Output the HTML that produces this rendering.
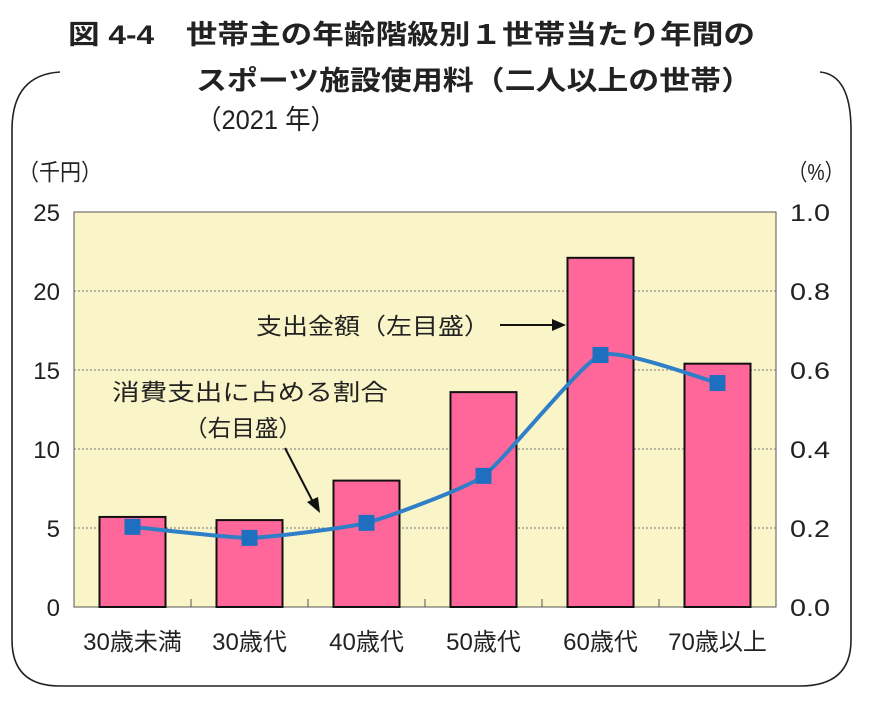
<!DOCTYPE html>
<html><head><meta charset="utf-8"><style>
body{margin:0;background:#fff;}
svg{display:block;font-family:"Liberation Sans","Noto Sans CJK JP",sans-serif;}
</style></head><body>
<svg id="chart" width="870" height="711" viewBox="0 0 870 711">
<path d="M60,72 Q12,75 12,130 L12,640 Q12,686 60,686 L800,686 Q851,686 851,640 L851,130 Q851,75 820,72" fill="none" stroke="#222" stroke-width="1.6"/>
<g font-size="27" fill="#222" font-weight="bold">
<text x="68" y="44" textLength="687" lengthAdjust="spacingAndGlyphs">図 4-4　世帯主の年齢階級別１世帯当たり年間の</text>
<text x="196" y="90" textLength="556" lengthAdjust="spacingAndGlyphs">スポーツ施設使用料（二人以上の世帯）</text>
<text x="196" y="129" textLength="140" lengthAdjust="spacingAndGlyphs" font-weight="normal">（2021 年）</text>
</g>
<text x="18" y="180" font-size="23" textLength="84" lengthAdjust="spacingAndGlyphs" fill="#222">（千円）</text>
<text x="788" y="180" font-size="23" textLength="56" lengthAdjust="spacingAndGlyphs" fill="#222">（%）</text>
<rect x="74" y="212" width="702" height="395" fill="#faf5c8" stroke="#555" stroke-width="1"/>
<g id="grid"></g><g id="bars"></g><g id="line"></g><g id="axes"></g>
<g>
<text x="256" y="334" font-size="23" textLength="234" lengthAdjust="spacingAndGlyphs" fill="#222">支出金額（左目盛）</text>
<line x1="500" y1="325" x2="555" y2="325" stroke="#111" stroke-width="2"/>
<polygon points="566,325 552,319 552,331" fill="#111"/>
</g>
<g>
<text x="112" y="400" font-size="23" textLength="276" lengthAdjust="spacingAndGlyphs" fill="#222">消費支出に占める割合</text>
<text x="184" y="436" font-size="23" textLength="118" lengthAdjust="spacingAndGlyphs" fill="#222">（右目盛）</text>
<line x1="285" y1="448" x2="313" y2="502" stroke="#111" stroke-width="2"/>
<polygon points="320,513 307,502 318,497" fill="#111"/>
</g>
</svg>
<script>
const categories=["30歳未満","30歳代","40歳代","50歳代","60歳代","70歳以上"];
const expenditure=[5.7,5.5,8.0,13.6,22.1,15.4];
const ratio=[0.203,0.175,0.213,0.332,0.638,0.567];
const leftTicks=[0,5,10,15,20,25];
const rightTicks=["0.0","0.2","0.4","0.6","0.8","1.0"];
const NS="http://www.w3.org/2000/svg";
const L=74,R=776,T=212,B=607,cw=(R-L)/categories.length;
const yL=v=>B-(v/25)*(B-T);
const yR=v=>B-v*(B-T);
const xC=i=>L+cw*(i+0.5);
function mk(tag,attrs,parent){const e=document.createElementNS(NS,tag);for(const k in attrs)e.setAttribute(k,attrs[k]);document.getElementById(parent).appendChild(e);return e;}
leftTicks.forEach((t,i)=>{
  if(t>0&&t<25){const g=mk("line",{x1:L,x2:R,y1:yL(t),y2:yL(t),stroke:"#777","stroke-dasharray":"2,2","stroke-width":1},"grid");
  
  }
  const a=mk("text",{x:L-14,y:yL(t)+9,"text-anchor":"end","font-size":24,fill:"#222"},"axes");a.textContent=t;
  
  
  const b=mk("text",{x:R+14,y:yL(t)+9,"font-size":24,fill:"#222",textLength:40,lengthAdjust:"spacingAndGlyphs"},"axes");b.textContent=rightTicks[i];
  
  
});
categories.forEach((c,i)=>{
  if(i>0){const tk=mk("line",{x1:L+cw*i,x2:L+cw*i,y1:B,y2:B-8,stroke:"#555"},"axes");
  
  }
  const r=mk("rect",{x:xC(i)-33,y:yL(expenditure[i]),width:66,height:B-yL(expenditure[i]),fill:"#ff6699",stroke:"#111","stroke-width":2},"bars");
  
  
  const t=mk("text",{x:xC(i),y:B+43,"text-anchor":"middle","font-size":24,fill:"#222"},"axes");t.textContent=c;
  
  
});
const pts=ratio.map((v,i)=>[xC(i),yR(v)]);
let d="M"+pts[0].join(",");
for(let i=0;i<pts.length-1;i++){
  const p0=pts[Math.max(0,i-1)],p1=pts[i],p2=pts[i+1],p3=pts[Math.min(pts.length-1,i+2)],k=0.08;
  d+=` C${p1[0]+(p2[0]-p0[0])*k},${p1[1]+(p2[1]-p0[1])*k} ${p2[0]-(p3[0]-p1[0])*k},${p2[1]-(p3[1]-p1[1])*k} ${p2[0]},${p2[1]}`;
}
const ln=mk("path",{d:d,fill:"none",stroke:"#2f7fc8","stroke-width":4},"line");


pts.forEach((p,i)=>{
  const m=mk("rect",{x:p[0]-8,y:p[1]-8,width:16,height:16,fill:"#1f6fc0"},"line");
  
  
});
</script>
</body></html>
